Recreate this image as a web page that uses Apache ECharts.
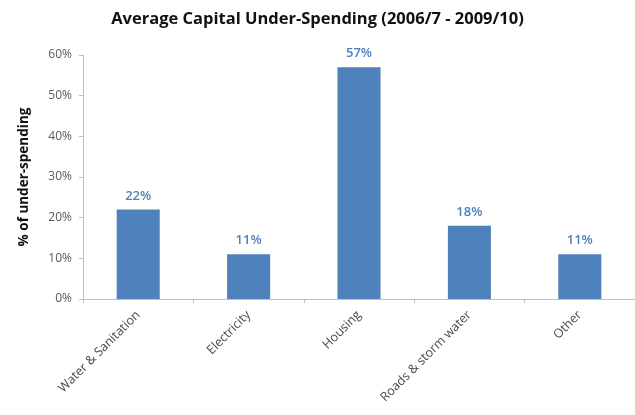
<!DOCTYPE html>
<html><head><meta charset="utf-8">
<script src="https://cdn.jsdelivr.net/npm/echarts@6/dist/echarts.min.js"></script>
<style>html,body{margin:0;padding:0;background:#fff}#c{width:635px;height:415px}</style>
</head><body><div id="c"></div>
<script>
var titleText = 'Average Capital Under-Spending (2006/7 - 2009/10)';
var yAxisName = '% of under-spending';
var categories = ['Water & Sanitation', 'Electricity', 'Housing', 'Roads & storm water', 'Other'];
var values = [22, 11, 57, 18, 11];
var yTicks = [0, 10, 20, 30, 40, 50, 60];

var chart = echarts.init(document.getElementById('c'), null, {renderer: 'canvas'});
chart.setOption({
  animation: false,
  backgroundColor: '#fff',
  title: {
    text: titleText, left: 'center', top: 6,
    textStyle: {fontFamily: 'Open Sans', fontWeight: 'bold', fontSize: 16.5, color: '#111'}
  },
  grid: {left: 83, right: -3, top: 55, bottom: 116},
  xAxis: {
    type: 'category', data: categories,
    axisLine: {lineStyle: {color: '#bfbfbf'}},
    axisTick: {show: true, length: 4, lineStyle: {color: '#bfbfbf'}},
    axisLabel: {rotate: 45, margin: 14, fontFamily: 'Open Sans', fontSize: 12.5, color: '#4a4a4a'}
  },
  yAxis: {
    type: 'value', min: yTicks[0], max: yTicks[yTicks.length - 1], interval: 10,
    name: yAxisName, nameLocation: 'middle', nameGap: 52,
    nameTextStyle: {fontFamily: 'Open Sans', fontWeight: 'bold', fontSize: 13.5, color: '#111'},
    axisLine: {show: true, lineStyle: {color: '#bfbfbf'}},
    axisTick: {show: true, length: 4, lineStyle: {color: '#bfbfbf'}},
    splitLine: {show: false},
    axisLabel: {margin: 11, formatter: '{value}%', fontFamily: 'Open Sans', fontSize: 12, color: '#595959'}
  },
  series: [{
    type: 'bar', data: values, barWidth: '39%',
    itemStyle: {color: '#4F81BD'},
    label: {show: true, position: 'top', distance: 7, formatter: function(p){return Math.round(p.value) + '%';},
      fontFamily: 'Open Sans', fontWeight: 600, fontSize: 13, color: '#4F81BD'}
  }]
});
</script></body></html>
